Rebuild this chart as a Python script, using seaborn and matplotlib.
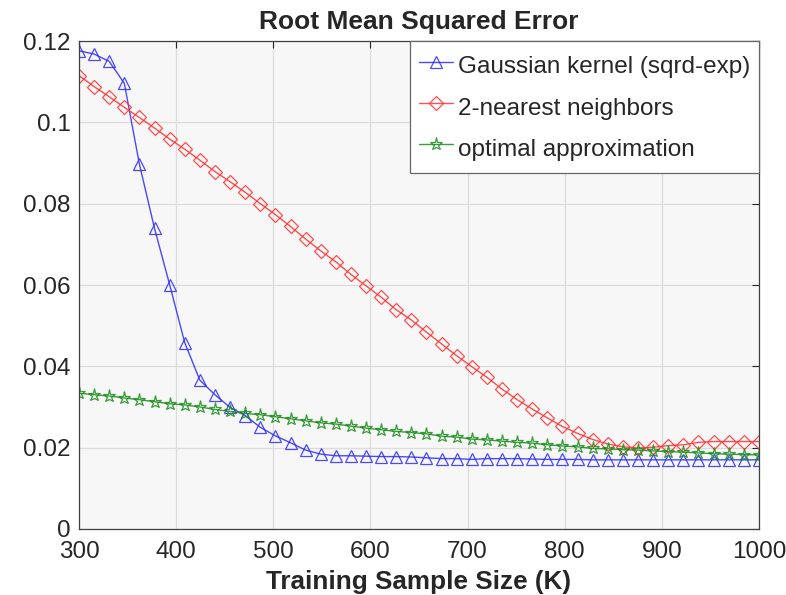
import numpy as np
import pandas as pd
import matplotlib
matplotlib.use("Agg")
import matplotlib.pyplot as plt
import seaborn as sns

# Training sample sizes (thousands)
sample_size = np.linspace(300, 1000, 46)

gaussian_kernel = [
    0.1176, 0.1168, 0.1150, 0.1096, 0.0897, 0.0739, 0.0601, 0.0458, 0.0366, 0.0330,
    0.0299, 0.0279, 0.0250, 0.0229, 0.0212, 0.0194, 0.0184, 0.0180, 0.0180, 0.0179,
    0.0178, 0.0178, 0.0177, 0.0175, 0.0173, 0.0173, 0.0171, 0.0173, 0.0173, 0.0173,
    0.0172, 0.0171, 0.0171, 0.0171, 0.0170, 0.0170, 0.0170, 0.0170, 0.0170, 0.0170,
    0.0170, 0.0170, 0.0170, 0.0170, 0.0170, 0.0170,
]

nearest_neighbors = [
    0.1115, 0.1088, 0.1063, 0.1037, 0.1012, 0.0986, 0.0959, 0.0934, 0.0907, 0.0879,
    0.0854, 0.0828, 0.0800, 0.0773, 0.0744, 0.0713, 0.0684, 0.0657, 0.0626, 0.0598,
    0.0570, 0.0539, 0.0514, 0.0484, 0.0455, 0.0426, 0.0399, 0.0373, 0.0344, 0.0318,
    0.0295, 0.0273, 0.0252, 0.0235, 0.0220, 0.0209, 0.0202, 0.0199, 0.0201, 0.0205,
    0.0207, 0.0213, 0.0215, 0.0215, 0.0215, 0.0215,
]

optimal_approx = [
    0.0334, 0.0330, 0.0327, 0.0322, 0.0318, 0.0313, 0.0308, 0.0305, 0.0300, 0.0294,
    0.0289, 0.0284, 0.0281, 0.0276, 0.0271, 0.0266, 0.0261, 0.0258, 0.0253, 0.0248,
    0.0244, 0.0240, 0.0237, 0.0234, 0.0228, 0.0226, 0.0221, 0.0219, 0.0216, 0.0213,
    0.0211, 0.0207, 0.0204, 0.0202, 0.0198, 0.0197, 0.0195, 0.0194, 0.0192, 0.0190,
    0.0189, 0.0187, 0.0185, 0.0184, 0.0183, 0.0182,
]

series_labels = ["Gaussian kernel (sqrd-exp)", "2-nearest neighbors", "optimal approximation"]
x_ticks = [300, 400, 500, 600, 700, 800, 900, 1000]
y_ticks = [0, 0.02, 0.04, 0.06, 0.08, 0.1, 0.12]
y_tick_labels = ["0", "0.02", "0.04", "0.06", "0.08", "0.1", "0.12"]

df = pd.DataFrame({
    "size": np.tile(sample_size, 3),
    "rmse": gaussian_kernel + nearest_neighbors + optimal_approx,
    "method": np.repeat(series_labels, len(sample_size)),
})

sns.set_theme(style="white")
plt.rcParams["font.family"] = ["Liberation Sans", "DejaVu Sans"]

fig = plt.figure(figsize=(7.86, 5.95), dpi=100)
ax = fig.add_axes([0.1005, 0.1110, 0.8650, 0.8200])
ax.set_facecolor("#f7f7f7")

styles = {
    series_labels[0]: dict(color="#2b2bff", marker="^", size=8.5),
    series_labels[1]: dict(color="#ff3030", marker="D", size=7.0),
    series_labels[2]: dict(color="#1a8c1a", marker="*", size=9.5),
}

for name in series_labels:
    sub = df[df["method"] == name]
    st = styles[name]
    sns.lineplot(
        data=sub, x="size", y="rmse", ax=ax, label=name,
        color=st["color"], marker=st["marker"], markersize=st["size"],
        markerfacecolor="none", markeredgecolor=st["color"], markeredgewidth=0.9,
        linewidth=1.0, alpha=0.85,
    )

ax.set_xlim(300, 1000)
ax.set_ylim(0, 0.12)
ax.set_xticks(x_ticks)
ax.set_yticks(y_ticks)
ax.set_yticklabels(y_tick_labels)
ax.tick_params(axis="both", labelsize=17.5, colors="#262626", direction="in",
               length=5, width=0.8, top=True, right=True)
ax.tick_params(axis="x", pad=9)
ax.tick_params(axis="y", pad=6)
ax.grid(True, color="#dcdcdc", linewidth=0.9)
for sp in ax.spines.values():
    sp.set_color("#404040")
    sp.set_linewidth(0.9)

ax.set_title("Root Mean Squared Error", fontsize=19, fontweight="bold", pad=9)
ax.set_xlabel("Training Sample Size (K)", fontsize=18.8, fontweight="bold",
              color="#262626", labelpad=4.5)
ax.set_ylabel("")

leg = ax.legend(loc="upper right", fontsize=17.5, frameon=True, fancybox=False,
                handlelength=1.4, handleheight=1.6, handletextpad=0.2,
                borderpad=0.36, labelspacing=0.42, borderaxespad=0.0)
leg.get_frame().set_edgecolor("#666666")
leg.get_frame().set_linewidth(0.9)
leg.get_frame().set_facecolor("white")
leg.get_frame().set_alpha(1.0)

fig.savefig("out.png", dpi=100, facecolor="white")
